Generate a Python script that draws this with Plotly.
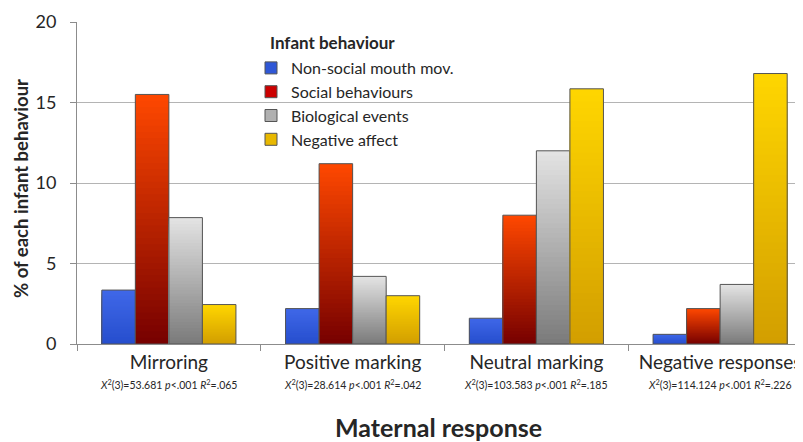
import plotly.graph_objects as go

# ---------------- data ----------------
categories = ["Mirroring", "Positive marking", "Neutral marking", "Negative responses"]
series_names = ["Non-social mouth mov.", "Social behaviours", "Biological events", "Negative affect"]
nonsocial_mouth = [3.35, 2.2, 1.6, 0.6]
social_behaviours = [15.5, 11.2, 8.0, 2.2]
biological_events = [7.85, 4.2, 12.0, 3.7]
negative_affect = [2.45, 3.0, 15.85, 16.8]
stats_labels = [
    "<i>X</i><sup>2</sup>(3)=53.681 <i>p</i><.001 <i>R</i><sup>2</sup>=.065",
    "<i>X</i><sup>2</sup>(3)=28.614 <i>p</i><.001 <i>R</i><sup>2</sup>=.042",
    "<i>X</i><sup>2</sup>(3)=103.583 <i>p</i><.001 <i>R</i><sup>2</sup>=.185",
    "<i>X</i><sup>2</sup>(3)=114.124 <i>p</i><.001 <i>R</i><sup>2</sup>=.226",
]
y_tick_values = [0, 5, 10, 15, 20]

# ---------------- styles ----------------
FONT = "Lato, 'Open Sans', sans-serif"
TEXT = "#262626"
# (top colour, bottom colour) of each gradient fill
gradients = [
    ((64, 104, 232), (38, 78, 205)),
    ((255, 72, 0), (118, 0, 0)),
    ((228, 228, 228), (122, 122, 122)),
    ((255, 214, 0), (210, 158, 0)),
]
legend_colors = ["#2f57d6", "#cc0000", "#b0b0b0", "#e8b800"]
all_values = [nonsocial_mouth, social_behaviours, biological_events, negative_affect]
N_STEPS = 40

# page body has an 8px margin: figure is sized/margined so the plot area lands
# at x 77..803, y 22..344 of the window
W, H = 795, 434
ML, MT, MB, MR = 69, 14, 98, 0
PW, PH = W - ML - MR, H - MT - MB

fig = go.Figure()

for name, vals, (top, bot), lc in zip(series_names, all_values, gradients, legend_colors):
    fig.add_trace(go.Bar(
        x=categories, y=[None] * len(categories), name=name, offsetgroup=name,
        marker=dict(color=lc, line=dict(color="#555555", width=1)),
        showlegend=True, hoverinfo="skip",
    ))
    for k in range(N_STEPS, 0, -1):
        frac = k / N_STEPS
        t = (k - 0.5) / N_STEPS
        col = "rgb(%d,%d,%d)" % tuple(round(b + (tp - b) * t) for tp, b in zip(top, bot))
        fig.add_trace(go.Bar(
            x=categories, y=[v * frac for v in vals], offsetgroup=name,
            marker=dict(color=col, line=dict(width=0)),
            showlegend=False, hoverinfo="skip",
        ))
    fig.add_trace(go.Bar(
        x=categories, y=vals, offsetgroup=name, name=name,
        marker=dict(color="rgba(0,0,0,0)", line=dict(color="#555555", width=1)),
        showlegend=False,
    ))

def px_y(page_y):
    # page pixel -> paper y
    return (344 - page_y) / PH

def px_x(page_x):
    return (page_x - 77) / PW

for cat, lab in zip(categories, stats_labels):
    fig.add_annotation(
        x=cat, xref="x", y=px_y(384), yref="paper", text=lab, showarrow=False,
        font=dict(family=FONT, size=10.5, color=TEXT), yanchor="middle",
    )

fig.add_annotation(
    x=px_x(438), xref="paper", y=px_y(427), yref="paper",
    text="<b>Maternal response</b>", showarrow=False,
    font=dict(family=FONT, size=25, color=TEXT), xanchor="center", yanchor="middle",
)
fig.add_annotation(
    x=px_x(21), xref="paper", y=px_y(189), yref="paper", textangle=-90,
    text="<b>% of each infant behaviour</b>", showarrow=False,
    font=dict(family=FONT, size=18.5, color=TEXT), xanchor="center", yanchor="middle",
)
fig.add_annotation(
    x=px_x(268), xref="paper", y=px_y(42), yref="paper", xanchor="left", yanchor="middle",
    text="<b>Infant behaviour</b>", showarrow=False,
    font=dict(family=FONT, size=17, color=TEXT),
)

fig.update_layout(
    width=W, height=H,
    margin=dict(l=ML, r=MR, t=MT, b=MB, autoexpand=False),
    paper_bgcolor="white", plot_bgcolor="white",
    barmode="group", bargap=0.27, bargroupgap=0,
    font=dict(family=FONT, color=TEXT),
    showlegend=True,
    legend=dict(
        x=px_x(251), y=px_y(51), xanchor="left", yanchor="top",
        bgcolor="rgba(0,0,0,0)",
        font=dict(family=FONT, size=16, color=TEXT),
        tracegroupgap=0, itemwidth=30,
    ),
    xaxis=dict(
        type="category", range=[-0.5, 3.451],
        showline=True, linecolor="#8c8c8c", linewidth=1,
        ticks="outside", tickson="boundaries", ticklen=6, tickcolor="#8c8c8c",
        tickfont=dict(family=FONT, size=19, color=TEXT),
        ticklabelstandoff=1,
        showgrid=False,
    ),
    yaxis=dict(
        range=[0, 20], tickvals=y_tick_values,
        showline=True, linecolor="#8c8c8c", linewidth=1,
        ticks="outside", ticklen=6, tickcolor="#8c8c8c",
        showgrid=True, gridcolor="#b4b4b4", gridwidth=1,
        tickfont=dict(family=FONT, size=18, color=TEXT),
        ticklabelstandoff=10,
        zeroline=False,
    ),
)

fig.write_html("out.html")
